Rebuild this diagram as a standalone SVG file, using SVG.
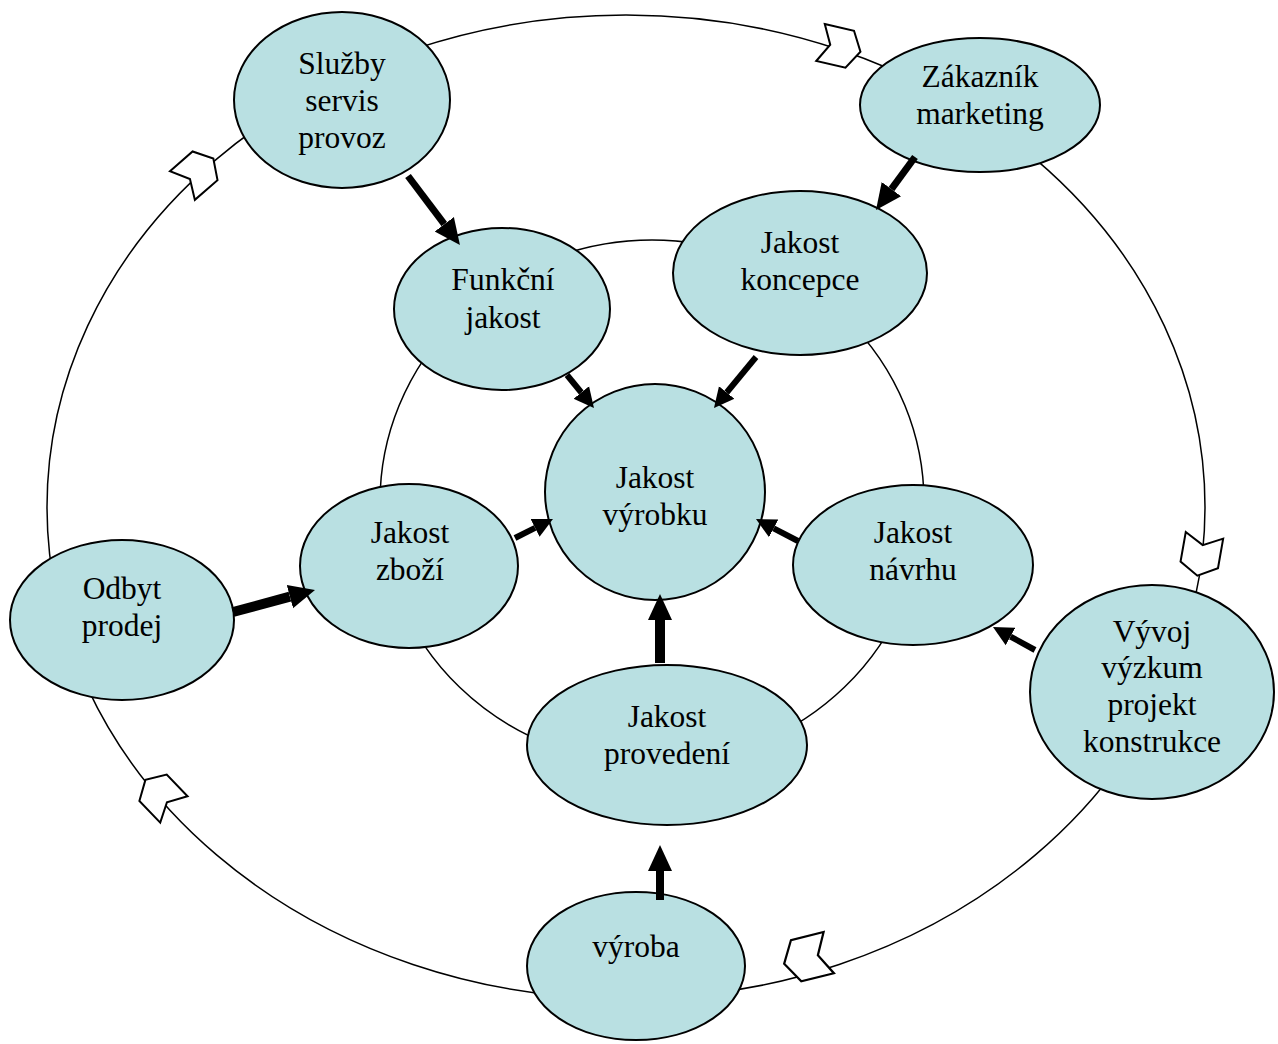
<svg xmlns="http://www.w3.org/2000/svg" width="1278" height="1044" viewBox="0 0 1278 1044">
<style>
.node{fill:#b9e0e2;stroke:#000;stroke-width:2}
.ring{fill:none;stroke:#000;stroke-width:1.5}
.chev{fill:#fff;stroke:#000;stroke-width:2;stroke-linejoin:miter}
.lbl{font-family:"Liberation Serif","Times New Roman",serif;font-size:31.5px;text-anchor:middle;fill:#000}
.arr{stroke:#000;fill:none}
</style>
<defs>
<polygon id="chevron" points="-20,-19 10,-19 21,0 10,19 -20,19 -10,0"/>
<marker id="hb" markerUnits="userSpaceOnUse" markerWidth="28" markerHeight="28" viewBox="0 -14 28 28" refX="0" refY="0" orient="auto">
<path d="M0,-12 L26,0 L0,12 Z" fill="#000"/>
</marker>
<marker id="hs" markerUnits="userSpaceOnUse" markerWidth="22" markerHeight="22" viewBox="0 -11 22 22" refX="0" refY="0" orient="auto">
<path d="M0,-10 L20,0 L0,10 Z" fill="#000"/>
</marker>
</defs>
<rect width="1278" height="1044" fill="#fff"/>
<g id="rings">
<ellipse class="ring" cx="626" cy="507" rx="579" ry="492"/>
<ellipse class="ring" cx="652" cy="502" rx="272" ry="262"/>
<use href="#chevron" class="chev" transform="translate(840,47) rotate(13)"/>
<use href="#chevron" class="chev" transform="translate(197.5,172.4) rotate(-41)"/>
<use href="#chevron" class="chev" transform="translate(1201,555) rotate(100)"/>
<use href="#chevron" class="chev" transform="translate(807,958) rotate(166) scale(1.12)"/>
<use href="#chevron" class="chev" transform="translate(160,795) rotate(226)"/>
</g>
<g id="n-sluzby"><ellipse class="node" cx="342" cy="100" rx="108" ry="88"/>
<text class="lbl" x="342" y="74">Služby</text><text class="lbl" x="342" y="111">servis</text><text class="lbl" x="342" y="148">provoz</text></g>
<g id="n-zakaznik"><ellipse class="node" cx="980" cy="105" rx="120" ry="67"/>
<text class="lbl" x="980" y="87">Zákazník</text><text class="lbl" x="980" y="124">marketing</text></g>
<g id="n-koncepce"><ellipse class="node" cx="800" cy="273" rx="127" ry="82"/>
<text class="lbl" x="800" y="253">Jakost</text><text class="lbl" x="800" y="290">koncepce</text></g>
<g id="n-funkcni"><ellipse class="node" cx="502" cy="309" rx="108" ry="81"/>
<text class="lbl" x="503" y="290">Funkční</text><text class="lbl" x="503" y="328">jakost</text></g>
<g id="n-vyrobku"><ellipse class="node" cx="655" cy="492" rx="110" ry="108"/>
<text class="lbl" x="655" y="488">Jakost</text><text class="lbl" x="655" y="525">výrobku</text></g>
<g id="n-zbozi"><ellipse class="node" cx="409" cy="566" rx="109" ry="82"/>
<text class="lbl" x="410" y="543">Jakost</text><text class="lbl" x="410" y="580">zboží</text></g>
<g id="n-navrhu"><ellipse class="node" cx="913" cy="565" rx="120" ry="80"/>
<text class="lbl" x="913" y="543">Jakost</text><text class="lbl" x="913" y="580">návrhu</text></g>
<g id="n-odbyt"><ellipse class="node" cx="122" cy="620" rx="112" ry="80"/>
<text class="lbl" x="122" y="599">Odbyt</text><text class="lbl" x="122" y="636">prodej</text></g>
<g id="n-provedeni"><ellipse class="node" cx="667" cy="745" rx="140" ry="80"/>
<text class="lbl" x="667" y="727">Jakost</text><text class="lbl" x="667" y="764">provedení</text></g>
<g id="n-vyvoj"><ellipse class="node" cx="1152" cy="692" rx="122" ry="107"/>
<text class="lbl" x="1152" y="642">Vývoj</text><text class="lbl" x="1152" y="678">výzkum</text><text class="lbl" x="1152" y="715">projekt</text><text class="lbl" x="1152" y="752">konstrukce</text></g>
<g id="n-vyroba"><ellipse class="node" cx="636" cy="966" rx="109" ry="74"/>
<text class="lbl" x="636" y="957">výroba</text></g>
<g id="connectors">
<line class="arr" x1="408" y1="176" x2="444.3" y2="224.2" stroke-width="7" marker-end="url(#hb)"/>
<line class="arr" x1="915" y1="157" x2="891.4" y2="189.1" stroke-width="7" marker-end="url(#hb)"/>
<line class="arr" x1="567" y1="375" x2="581.3" y2="392.5" stroke-width="6" marker-end="url(#hs)"/>
<line class="arr" x1="756" y1="357" x2="726.7" y2="392.5" stroke-width="6" marker-end="url(#hs)"/>
<line class="arr" x1="515" y1="538" x2="535.1" y2="527.9" stroke-width="6" marker-end="url(#hs)"/>
<line class="arr" x1="798" y1="541" x2="773.7" y2="528.3" stroke-width="6" marker-end="url(#hs)"/>
<line class="arr" x1="233" y1="612" x2="289.9" y2="596.7" stroke-width="10" marker-end="url(#hb)"/>
<line class="arr" x1="660" y1="663" x2="660" y2="620" stroke-width="10" marker-end="url(#hb)"/>
<line class="arr" x1="660" y1="900" x2="660" y2="871" stroke-width="8" marker-end="url(#hb)"/>
<line class="arr" x1="1035" y1="650" x2="1010.5" y2="636.6" stroke-width="6" marker-end="url(#hs)"/>
</g>
</svg>
